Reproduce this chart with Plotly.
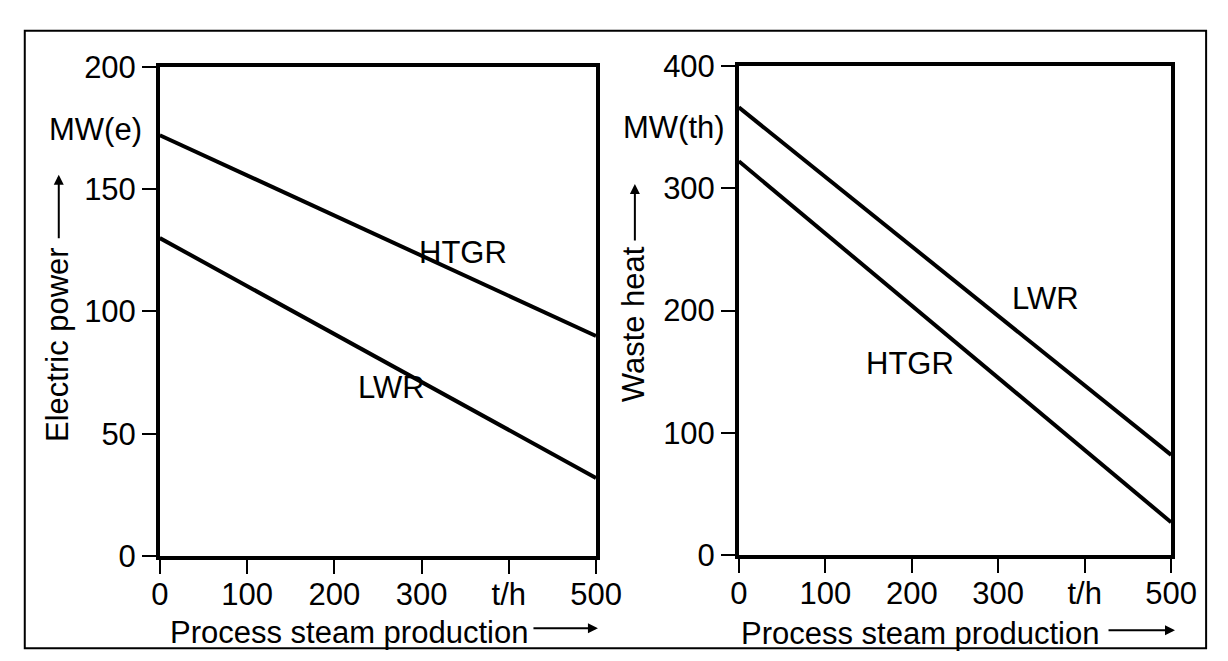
import plotly.graph_objects as go

# ---- data ----
steam = [0, 500]                     # t/h
elec_htgr = [172, 90]                # MW(e)
elec_lwr = [130, 32]
heat_lwr = [366, 82]                 # MW(th)
heat_htgr = [322, 27]

x_tickvals = [0, 100, 200, 300, 400, 500]
x_ticktext = ["0", "100", "200", "300", "t/h", "500"]
y1_ticks = [0, 50, 100, 150, 200]
y2_ticks = [0, 100, 200, 300, 400]

W, H = 1228, 661
FONT = "Liberation Sans, Arial, sans-serif"
FS = 31


def px(x):
    return x / W


def py(y):
    return 1 - y / H


fig = go.Figure()
line_style = dict(color="black", width=4)
fig.add_trace(go.Scatter(x=steam, y=elec_htgr, mode="lines", line=line_style, xaxis="x", yaxis="y", showlegend=False))
fig.add_trace(go.Scatter(x=steam, y=elec_lwr, mode="lines", line=line_style, xaxis="x", yaxis="y", showlegend=False))
fig.add_trace(go.Scatter(x=steam, y=heat_lwr, mode="lines", line=line_style, xaxis="x2", yaxis="y2", showlegend=False))
fig.add_trace(go.Scatter(x=steam, y=heat_htgr, mode="lines", line=line_style, xaxis="x2", yaxis="y2", showlegend=False))

axis_common = dict(showline=True, linecolor="black", linewidth=3.5, mirror=True,
                   showgrid=False, zeroline=False, ticks="outside", ticklen=14,
                   tickwidth=2, tickcolor="black",
                   tickfont=dict(family=FONT, size=FS, color="black"))

fig.update_layout(
    width=W, height=H,
    margin=dict(l=0, r=0, t=0, b=0),
    paper_bgcolor="white", plot_bgcolor="white",
    xaxis=dict(domain=[px(147), px(596)], range=[0, 500], tickvals=x_tickvals,
               ticktext=x_ticktext, anchor="y", ticklabelstandoff=-6, **axis_common),
    yaxis=dict(domain=[py(561), py(44)], range=[0, 200], tickvals=y1_ticks,
               anchor="x", **axis_common),
    xaxis2=dict(domain=[px(743), px(1188)], range=[0, 500], tickvals=x_tickvals,
                ticktext=x_ticktext, anchor="y2", ticklabelstandoff=-6, **axis_common),
    yaxis2=dict(domain=[py(560), py(43)], range=[0, 400], tickvals=y2_ticks,
                anchor="x2", **axis_common),
)

# outer frame
fig.add_shape(type="rect", xref="paper", yref="paper",
              x0=px(8), x1=px(1224), y0=py(658), y1=py(6),
              line=dict(color="black", width=2))

txt = dict(family=FONT, size=FS, color="black")

annotations = []
# line labels
annotations += [
    dict(x=348, y=124, xref="x", yref="y", text="HTGR", showarrow=False, font=txt),
    dict(x=265, y=69, xref="x", yref="y", text="LWR", showarrow=False, font=txt),
    dict(x=355, y=210, xref="x2", yref="y2", text="LWR", showarrow=False, font=txt),
    dict(x=198, y=157, xref="x2", yref="y2", text="HTGR", showarrow=False, font=txt),
]
# unit labels
annotations += [
    dict(x=px(131), y=py(110), xref="paper", yref="paper", text="MW(e)", showarrow=False,
         xanchor="right", yanchor="middle", font=txt),
    dict(x=px(731), y=py(108), xref="paper", yref="paper", text="MW(th)", showarrow=False,
         xanchor="right", yanchor="middle", font=txt),
]
# y-axis titles (rotated)
annotations += [
    dict(x=px(41), y=py(337), xref="paper", yref="paper", text="Electric power", showarrow=False,
         textangle=-90, xanchor="center", yanchor="middle", font=txt),
    dict(x=px(634), y=py(316), xref="paper", yref="paper", text="Waste heat", showarrow=False,
         textangle=-90, xanchor="center", yanchor="middle", font=txt),
]
# x-axis titles
annotations += [
    dict(x=px(155), y=py(641), xref="paper", yref="paper", text="Process steam production",
         showarrow=False, xanchor="left", yanchor="middle", font=txt),
    dict(x=px(743), y=py(643), xref="paper", yref="paper", text="Process steam production",
         showarrow=False, xanchor="left", yanchor="middle", font=txt),
]
# arrows
arrow = dict(showarrow=True, arrowhead=2, arrowsize=1, arrowwidth=2, arrowcolor="black",
             text="", xref="paper", yref="paper", axref="pixel", ayref="pixel")
annotations += [
    dict(x=px(598), y=py(637), ax=-66, ay=0, **arrow),
    dict(x=px(1192), y=py(639), ax=-68, ay=0, **arrow),
    dict(x=px(43), y=py(158), ax=0, ay=65, **arrow),
    dict(x=px(636), y=py(168), ax=0, ay=58, **arrow),
]
fig.update_layout(annotations=annotations)

fig.write_html("out.html")
